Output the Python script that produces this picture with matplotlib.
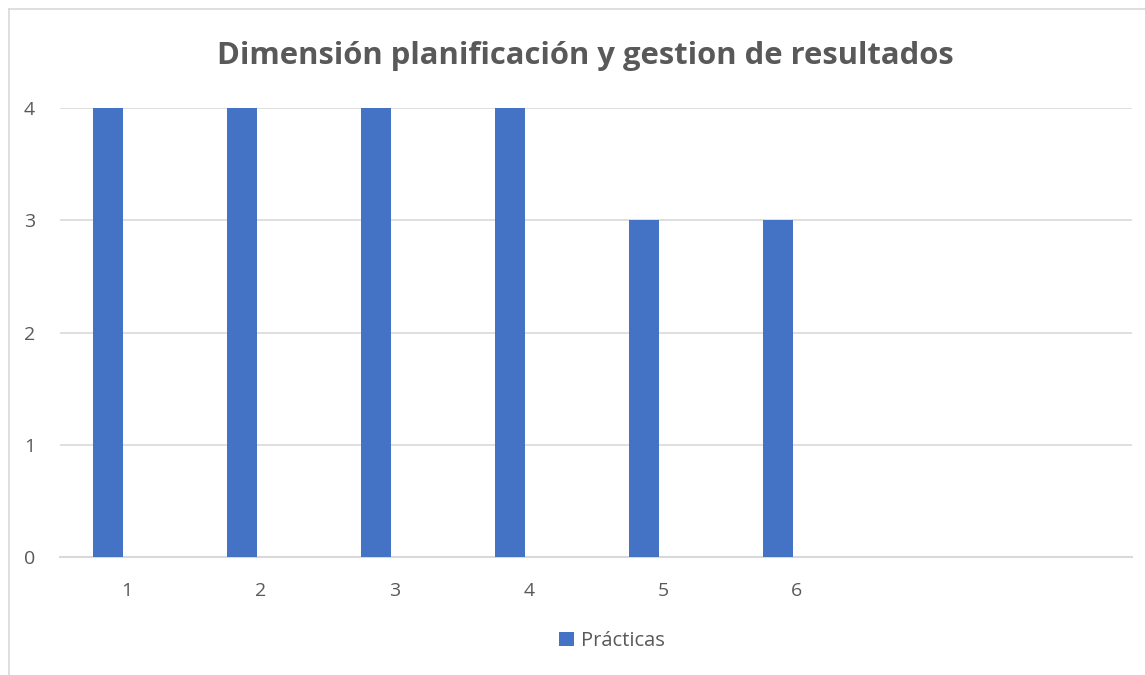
import numpy as np
import matplotlib.pyplot as plt
from matplotlib.lines import Line2D

# data
categories = ['1', '2', '3', '4', '5', '6', '', '']
practicas = [4, 4, 4, 4, 3, 3]
series_name = 'Prácticas'
title = 'Dimensión planificación y gestion de resultados'

blue = '#4472C4'
grid_col = '#d9d9d9'
text_col = '#595959'

plt.rcParams['font.family'] = ['Open Sans', 'DejaVu Sans']

W, H = 1145, 675
fig = plt.figure(figsize=(W / 100, H / 100), dpi=100)

# light frame round the chart (left and top edges visible)
fig.add_artist(Line2D([9 / W, 9 / W], [0, 1 - 9 / H], color=grid_col, lw=1.2))
fig.add_artist(Line2D([9 / W, 1], [1 - 9 / H, 1 - 9 / H], color=grid_col, lw=1.2))

ax = fig.add_axes([60 / W, 1 - 557 / H, (1132 - 60) / W, (557 - 108) / H])

x = np.arange(len(practicas))
ax.bar(x - 0.142, practicas, width=0.224, color=blue, zorder=3, label=series_name)

ax.set_xlim(-0.5, len(categories) - 0.5)
ax.set_ylim(0, 4)
ax.set_xticks(np.arange(len(categories)))
ax.set_xticklabels(categories)
ax.set_yticks([0, 1, 2, 3, 4])
ax.yaxis.grid(True, color=grid_col, lw=1.2, zorder=0)
ax.tick_params(length=0, labelsize=14, colors=text_col)
ax.tick_params(axis='x', pad=18)
ax.tick_params(axis='y', pad=18)
for s in ['top', 'right', 'left']:
    ax.spines[s].set_visible(False)
ax.spines['bottom'].set_color(grid_col)
ax.spines['bottom'].set_linewidth(1.5)

fig.text(585 / W, 1 - 56 / H, title, ha='center', va='center',
         fontsize=22.3, fontweight='bold', color=text_col)

leg = fig.legend(loc='center', bbox_to_anchor=(612 / W, 1 - 641 / H),
                 frameon=False, fontsize=14.5, handlelength=0.7, handleheight=0.7,
                 handletextpad=0.35, labelcolor=text_col)

fig.savefig('out.png', dpi=100)
